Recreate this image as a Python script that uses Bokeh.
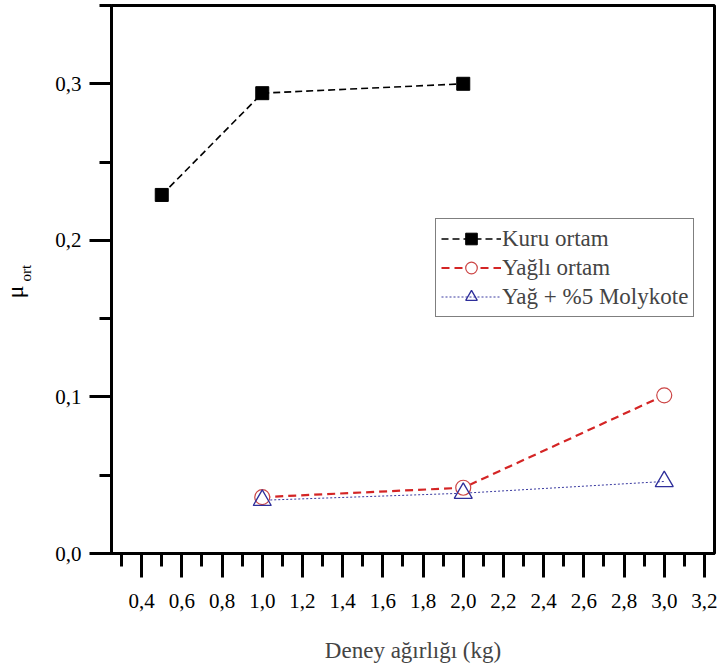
import math

from bokeh.core.properties import value
from bokeh.embed import file_html
from bokeh.layouts import row
from bokeh.models import FixedTicker, Legend, LegendItem, Range1d
from bokeh.plotting import figure
from bokeh.resources import INLINE

# Test load (kg) and mean friction coefficient for each lubrication condition
kuru_x = [0.5, 1.0, 2.0]
kuru_y = [0.229, 0.294, 0.300]

yagli_x = [1.0, 2.0, 3.0]
yagli_y = [0.036, 0.042, 0.101]

moly_x = [1.0, 2.0, 3.0]
moly_y = [0.034, 0.0385, 0.046]

x_ticks = [0.4, 0.6, 0.8, 1.0, 1.2, 1.4, 1.6, 1.8, 2.0, 2.2, 2.4, 2.6, 2.8, 3.0, 3.2]
x_tick_labels = ["0,4", "0,6", "0,8", "1,0", "1,2", "1,4", "1,6", "1,8",
                 "2,0", "2,2", "2,4", "2,6", "2,8", "3,0", "3,2"]
x_minor = [0.3, 0.5, 0.7, 0.9, 1.1, 1.3, 1.5, 1.7, 1.9, 2.1, 2.3, 2.5, 2.7, 2.9, 3.1]

y_ticks = [0.0, 0.1, 0.2, 0.3]
y_tick_labels = ["0,0", "0,1", "0,2", "0,3"]
y_minor = [0.05, 0.15, 0.25, 0.35]

FONT = "Liberation Serif"
W, H = 719, 668
TITLE_W = 40  # narrow strip that holds the rotated y-axis title

# ---- main plot -------------------------------------------------------------
p = figure(
    width=W - TITLE_W, height=H,
    output_backend="svg", toolbar_location=None,
    x_range=Range1d(0.25, 3.25), y_range=Range1d(0.0, 0.35),
    min_border_left=111 - TITLE_W, min_border_right=5,
    min_border_top=5, min_border_bottom=115,
)
p.grid.visible = False
p.background_fill_color = "white"
p.border_fill_color = "white"
p.outline_line_color = "black"
p.outline_line_width = 3

for ax in (p.xaxis[0], p.yaxis[0]):
    ax.axis_line_width = 3
    ax.major_tick_line_width = 3
    ax.minor_tick_line_width = 3
    ax.major_tick_in = 0
    ax.minor_tick_in = 0
    ax.major_label_text_font = FONT
    ax.major_label_text_font_size = "21px"
    ax.major_label_text_color = "black"

xa = p.xaxis[0]
xa.ticker = FixedTicker(ticks=x_ticks, minor_ticks=x_minor)
xa.major_label_overrides = dict(zip(x_ticks, x_tick_labels))
xa.major_tick_out = 24
xa.minor_tick_out = 13
xa.major_label_standoff = 16
xa.axis_label = "Deney ağırlığı (kg)"
xa.axis_label_text_font = FONT
xa.axis_label_text_font_style = "normal"
xa.axis_label_text_font_size = "23px"
xa.axis_label_standoff = 27

ya = p.yaxis[0]
ya.ticker = FixedTicker(ticks=y_ticks, minor_ticks=y_minor)
ya.major_label_overrides = dict(zip(y_ticks, y_tick_labels))
ya.major_tick_out = 22
ya.minor_tick_out = 12
ya.major_label_standoff = 8

# Connecting lines
l1 = p.line(kuru_x, kuru_y, line_color="black", line_width=1.6, line_dash="7 4")
m1 = p.scatter(kuru_x, kuru_y, marker="square", size=13,
               fill_color="black", line_color="black")
l2 = p.line(yagli_x, yagli_y, line_color="#d42525", line_width=2.2, line_dash="8 5")
l3 = p.line(moly_x, moly_y, line_color="#3a3aa0", line_width=1, line_dash="2 2")

# Open symbols on top of the lines
m2 = p.scatter(yagli_x, yagli_y, marker="circle", size=15,
               fill_color="white", line_color="#cc4545", line_width=1.2)
m3 = p.scatter(moly_x, moly_y, marker="triangle", size=18,
               fill_color="white", fill_alpha=0, line_color="#2e2e9a", line_width=1.3)

legend = Legend(
    items=[
        LegendItem(label="Kuru ortam", renderers=[l1, m1]),
        LegendItem(label="Yağlı ortam", renderers=[l2, m2]),
        LegendItem(label="Yağ + %5 Molykote", renderers=[l3, m3]),
    ],
    location=(324, 236),
    padding=5, spacing=0, margin=0,
    label_height=29, glyph_height=29, glyph_width=60, label_standoff=1,
    label_text_font=FONT, label_text_font_size="23px",
    border_line_color="black", border_line_width=1.5,
    background_fill_color="white", background_fill_alpha=1,
)
p.add_layout(legend)

# ---- y-axis title strip: "μ" with subscript "ort", read bottom-to-top -------
# The strip shares the main y range, so the title sits at a given axis level.
t = figure(
    width=TITLE_W, height=H,
    output_backend="svg", toolbar_location=None,
    x_range=Range1d(0, TITLE_W), y_range=p.y_range,
    x_axis_type=None, y_axis_type=None,
    min_border=0, outline_line_color=None,
)
t.grid.visible = False
t.background_fill_color = "white"
t.border_fill_color = "white"
t.text(x=[14], y=[0.167], text=["μ"], angle=math.pi / 2,
       text_align="center", text_baseline="middle",
       text_font=value(FONT), text_font_size="24px", text_color="black")
t.text(x=[25], y=[0.179], text=["ort"], angle=math.pi / 2,
       text_align="center", text_baseline="middle",
       text_font=value(FONT), text_font_size="15px", text_color="black")

layout = row(t, p, spacing=0)
open("out.html", "w").write(file_html(layout, INLINE))
